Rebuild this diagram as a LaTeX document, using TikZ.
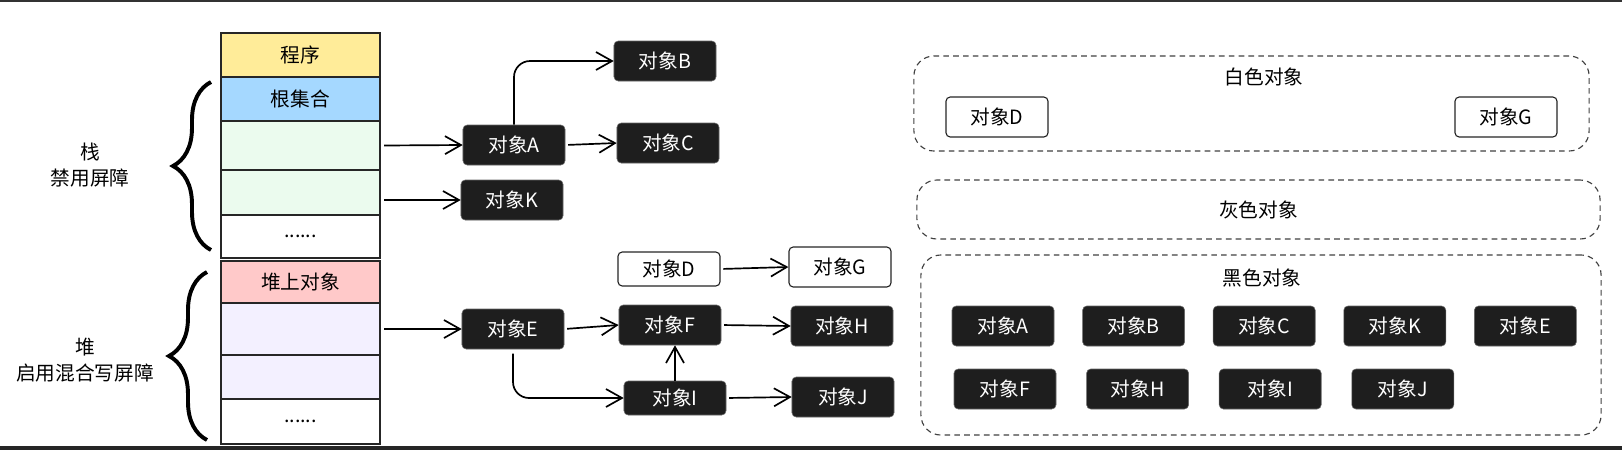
\documentclass[tikz,border=0pt]{standalone}
\usepackage{fontspec}
\setmainfont{Noto Sans CJK SC}
\usepackage{tikz}
\usetikzlibrary{arrows.meta,positioning,decorations.pathreplacing}
\definecolor{progfill}{HTML}{FFEC99}
\definecolor{rootfill}{HTML}{A5D8FF}
\definecolor{stackfill}{HTML}{EBFBEE}
\definecolor{heapfill}{HTML}{FFC9C9}
\definecolor{mixfill}{HTML}{F3F0FF}
\definecolor{objfill}{HTML}{1E1E1E}
\newcommand{\lblfont}{\fontsize{14}{18.5}\selectfont}

\begin{document}
\begin{tikzpicture}[
    x=0.025cm,y=-0.025cm,
    every node/.style={font=\lblfont},
    cell/.style={
        draw=black!85,line width=1.4pt,
        minimum width=3.975cm,inner sep=0pt,outer sep=0pt
    },
    obj/.style={
        draw=black!60,fill=objfill,text=white,rounded corners=3pt,
        minimum width=2.55cm,minimum height=1cm,inner sep=0pt
    },
    wobj/.style={
        draw=black!85,line width=0.8pt,fill=white,rounded corners=3pt,
        minimum width=2.55cm,minimum height=1cm,inner sep=0pt
    },
    setbox/.style={
        draw=black!75,line width=0.8pt,dash pattern=on 4pt off 3pt,
        rounded corners=0.5cm,inner sep=0pt
    },
    refline/.style={line width=1.2pt,-{Straight Barb[length=4mm,width=4.5mm]}},
    curly/.style={decorate,decoration={brace,amplitude=0.95cm},line width=2.8pt}
]
\useasboundingbox (0,0) rectangle (1622,450);
\fill[black!80] (0,0) rectangle (1622,2);
\fill[black!85] (0,446) rectangle (1622,450);

\node[cell,fill=progfill,minimum height=1.1cm] (prog) at (300.5,55) {程序};
\node[cell,fill=rootfill,minimum height=1.1cm,below=0pt of prog] (roots) {根集合};
\node[cell,fill=stackfill,minimum height=1.225cm,below=0pt of roots] (slot1) {};
\node[cell,fill=stackfill,minimum height=1.125cm,below=0pt of slot1] (slot2) {};
\node[cell,minimum height=1.075cm,below=0pt of slot2] (smore) {......};
\node[cell,fill=heapfill,minimum height=1.05cm,below=0.075cm of smore] (heapobj) {堆上对象};
\node[cell,fill=mixfill,minimum height=1.3cm,below=0pt of heapobj] (hslot1) {};
\node[cell,fill=mixfill,minimum height=1.1cm,below=0pt of hslot1] (hslot2) {};
\node[cell,minimum height=1.125cm,below=0pt of hslot2] (hmore) {......};

\draw[curly] (211,250) -- (211,82);
\draw[curly] (207,440) -- (207,272);
\node[align=center] (stackdesc) at (90,165) {栈\\禁用屏障};
\node[align=center] (heapdesc) at (85,360) {堆\\启用混合写屏障};

\node[obj] (objA) at (514,145) {对象A};
\node[obj] (objB) at (665,61) {对象B};
\node[obj] (objC) at (668,143) {对象C};
\node[obj] (objK) at (512,200) {对象K};
\node[wobj,minimum height=0.85cm] (objD) at (669,269) {对象D};
\node[wobj] (objG) at (840,267) {对象G};
\node[obj] (objE) at (513,329) {对象E};
\node[obj] (objF) at (670,325) {对象F};
\node[obj] (objH) at (842,326) {对象H};
\node[obj,minimum height=0.85cm] (objI) at (675,398) {对象I};
\node[obj] (objJ) at (843,397) {对象J};

\draw[refline,shorten <=3pt] (slot1.east) -- (objA.west);
\draw[refline,shorten <=3pt] (slot2.east |- objK.west) -- (objK.west);
\draw[refline,shorten <=3pt] (hslot1.east) -- (objE.west);
\draw[refline,rounded corners=0.4cm] (objA.north) |- (objB.west);
\draw[refline,shorten <=2pt] (objA.east) -- (objC.west);
\draw[refline,shorten <=2pt] (objD.east) -- (objG.west);
\draw[refline,shorten <=2pt] (objE.east) -- (objF.west);
\draw[refline,shorten <=2pt] (objF.east) -- (objH.west);
\draw[refline,rounded corners=0.4cm,shorten <=3pt] (objE.south) |- (objI.west);
\draw[refline] (objI.north) -- (objI.north |- objF.south);
\draw[refline,shorten <=2pt] (objI.east) -- (objJ.west);

\node[setbox,minimum width=16.875cm,minimum height=2.375cm] (whiteset) at (1251.5,103.5) {};
\node (whitelbl) at (1264,77) {白色对象};
\node[wobj] (whiteD) at (997,117) {对象D};
\node[wobj] (whiteG) at (1506,117) {对象G};

\node[setbox,minimum width=17.075cm,minimum height=1.475cm] (grayset) at (1258.5,209.5) {灰色对象};

\node[setbox,minimum width=17cm,minimum height=4.5cm] (blackset) at (1261,345) {};
\node (blacklbl) at (1262,278) {黑色对象};
\node[obj] (blackA) at (1003,326) {对象A};
\node[obj,right=0.7cm of blackA] (blackB) {对象B};
\node[obj,right=0.7cm of blackB] (blackC) {对象C};
\node[obj,right=0.7cm of blackC] (blackK) {对象K};
\node[obj,right=0.7cm of blackK] (blackE) {对象E};
\node[obj] (blackF) at (1005,389) {对象F};
\node[obj,right=0.75cm of blackF] (blackH) {对象H};
\node[obj,right=0.75cm of blackH] (blackI) {对象I};
\node[obj,right=0.75cm of blackI] (blackJ) {对象J};
\end{tikzpicture}
\end{document}
